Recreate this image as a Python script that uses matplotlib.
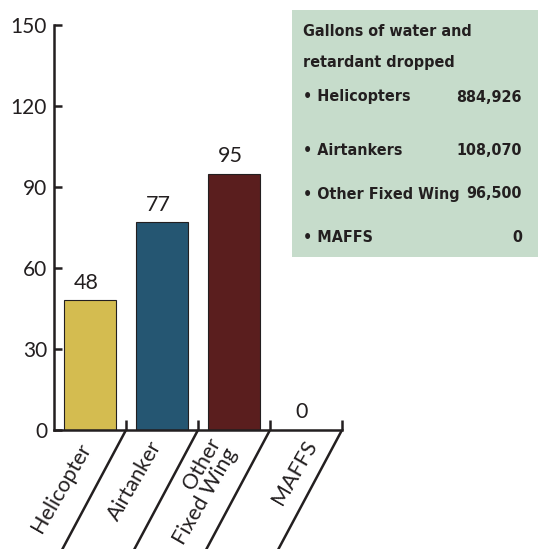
import matplotlib.pyplot as plt
import numpy as np
from matplotlib.patches import Rectangle
from matplotlib import font_manager

# chart data
categories = ['Helicopter', 'Airtanker', 'Other\nFixed Wing', 'MAFFS']
flights = [48, 77, 95, 0]
bar_colors = ['#d4bc50', '#255672', '#5a1e1e', '#888888']
y_ticks = [0, 30, 60, 90, 120, 150]

box_title = 'Gallons of water and\nretardant dropped'
box_names = ['• Helicopters', '• Airtankers', '• Other Fixed Wing', '• MAFFS']
box_values = ['884,926', '108,070', '96,500', '0']

dark = '#231f20'
plt.rcParams['font.family'] = ['Lato', 'DejaVu Sans']

# look for a condensed bold face for the info box
cond = [f.fname for f in font_manager.fontManager.ttflist
        if 'condensed' in f.fname.lower() and 'bold' in f.fname.lower()
        and 'oblique' not in f.fname.lower() and 'italic' not in f.fname.lower()]
if cond:
    box_font = font_manager.FontProperties(fname=sorted(cond)[0], size=11.5)
else:
    box_font = font_manager.FontProperties(family='Lato', weight='bold', size=11)

fig = plt.figure(figsize=(5.38, 5.49), dpi=100)
ax = fig.add_axes([54 / 538, 1 - 430 / 549, 288 / 538, 405 / 549])

x = np.arange(len(categories))
ax.bar(x, flights, width=0.73, color=bar_colors, edgecolor=dark, linewidth=0.8)

# value labels above bars
for xi, v in zip(x, flights):
    ax.text(xi - 0.055, v + 2.8, str(v), ha='center', va='bottom',
            fontsize=15.5, color=dark)

ax.set_xlim(-0.5, len(categories) - 0.5)
ax.set_ylim(0, 150)
ax.set_yticks(y_ticks)
ax.set_xticks(x)
ax.set_xticklabels([])
ax.set_xticks(x + 0.5, minor=True)
ax.tick_params(axis='x', which='major', length=0)
ax.tick_params(axis='x', which='minor', direction='in', length=7, width=1.8,
               color=dark)
ax.tick_params(axis='y', direction='in', length=6, width=1.8, color=dark,
               labelsize=15, labelcolor=dark, pad=5)

for s in ['top', 'right']:
    ax.spines[s].set_visible(False)
for s in ['left', 'bottom']:
    ax.spines[s].set_linewidth(1.8)
    ax.spines[s].set_color(dark)

# slanted divider lines under the axis
dx = -63 / 72.0
dy = -125 / 2.7
for xi in x + 0.5:
    ax.plot([xi, xi + dx * 125 / 118], [0, dy], color=dark, lw=1.8,
            clip_on=False, solid_capstyle='butt')

# rotated category labels (anchor = right end, centre of the text block)
label_pos = [(-0.06, -5.6), (0.93, -4.8), (1.861, -5.4), (3.084, -4.2)]
for (lx, ly), lab in zip(label_pos, categories):
    ax.text(lx, ly, lab, rotation=60, rotation_mode='anchor',
            ha='right', va='center', multialignment='right',
            fontsize=15.5, color=dark, linespacing=0.95)

# info box on the right
fig.patches.append(Rectangle((292 / 538, 1 - 257 / 549), 1 - 292 / 538,
                             247 / 549, transform=fig.transFigure,
                             facecolor='#c6dccb', edgecolor='none', zorder=0))
for yy, line in zip([32, 62], box_title.split('\n')):
    fig.text(303 / 538, 1 - yy / 549, line, ha='left', va='center',
             fontproperties=box_font, color=dark)
row_y = [97, 150, 194, 237]
for yy, n, v in zip(row_y, box_names, box_values):
    fig.text(303 / 538, 1 - yy / 549, n, ha='left', va='center',
             fontproperties=box_font, color=dark)
    fig.text(522 / 538, 1 - yy / 549, v, ha='right', va='center',
             fontproperties=box_font, color=dark)

fig.savefig('out.png', dpi=100)
